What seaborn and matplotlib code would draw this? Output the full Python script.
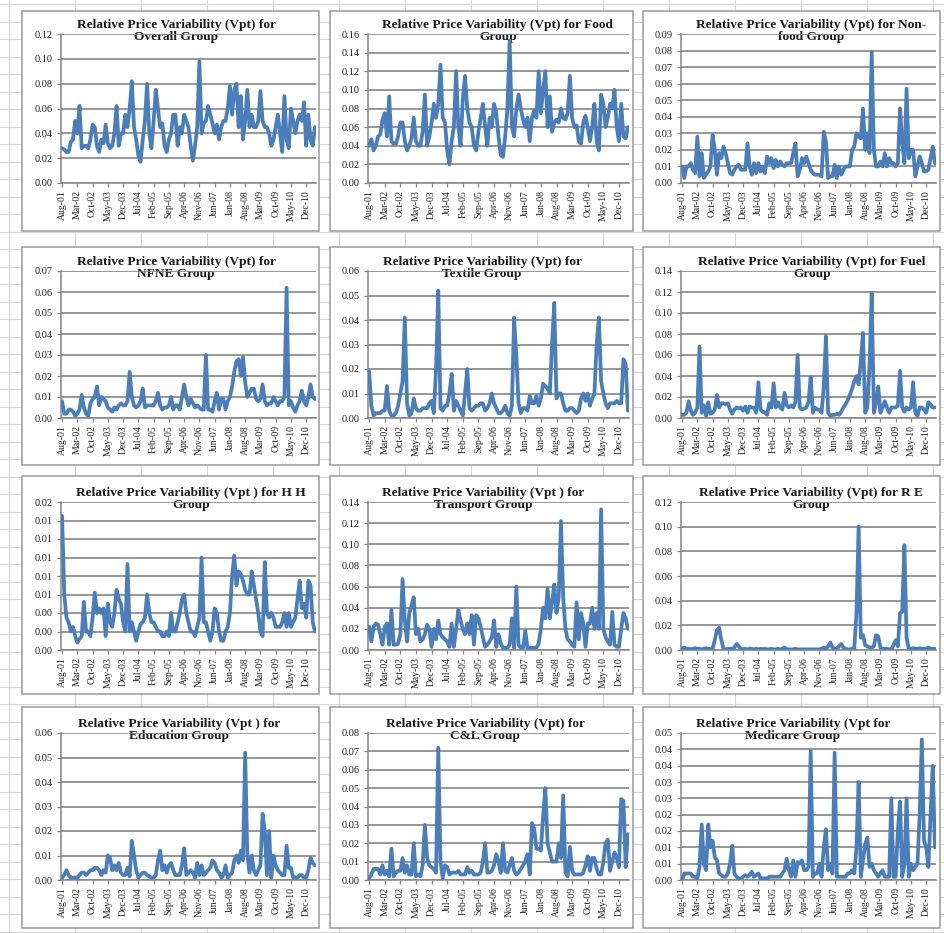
import numpy as np
import pandas as pd
import matplotlib
matplotlib.use("Agg")
import matplotlib.pyplot as plt
from matplotlib.patches import Rectangle
import seaborn as sns
from decimal import Decimal, ROUND_HALF_UP

# ---------------- data ----------------
months = pd.date_range("2001-08-01", periods=117, freq="MS").strftime("%b-%y").tolist()
tick_step = 7

overall = [0.028,0.027,0.025,0.025,0.033,0.035,0.05,0.04,0.062,0.028,
0.03,0.03,0.028,0.035,0.047,0.045,0.03,0.025,0.035,0.032,
0.047,0.032,0.028,0.03,0.04,0.062,0.03,0.04,0.04,0.055,
0.045,0.06,0.082,0.045,0.035,0.022,0.017,0.035,0.05,0.08,
0.04,0.028,0.05,0.075,0.06,0.045,0.048,0.03,0.025,0.035,
0.04,0.055,0.055,0.03,0.045,0.04,0.055,0.05,0.045,0.03,
0.018,0.03,0.045,0.098,0.04,0.048,0.05,0.062,0.055,0.048,
0.04,0.047,0.035,0.045,0.05,0.05,0.06,0.078,0.055,0.075,
0.08,0.045,0.07,0.035,0.05,0.075,0.045,0.055,0.045,0.045,
0.05,0.074,0.05,0.045,0.045,0.04,0.03,0.035,0.045,0.055,
0.04,0.025,0.07,0.035,0.028,0.06,0.05,0.04,0.05,0.055,
0.05,0.065,0.03,0.055,0.035,0.03,0.045]

food = [0.04,0.047,0.035,0.04,0.05,0.052,0.068,0.075,0.05,0.093,
0.045,0.042,0.042,0.05,0.065,0.065,0.045,0.035,0.04,0.048,
0.07,0.045,0.04,0.04,0.055,0.095,0.04,0.05,0.065,0.085,
0.07,0.085,0.127,0.07,0.065,0.035,0.02,0.045,0.06,0.12,
0.06,0.04,0.09,0.115,0.08,0.065,0.06,0.04,0.035,0.055,
0.07,0.085,0.06,0.04,0.07,0.06,0.085,0.075,0.05,0.03,
0.028,0.05,0.08,0.153,0.06,0.05,0.08,0.095,0.08,0.068,
0.06,0.07,0.045,0.07,0.078,0.07,0.12,0.075,0.1,0.12,
0.06,0.093,0.055,0.065,0.068,0.065,0.08,0.07,0.068,0.075,
0.115,0.07,0.06,0.062,0.045,0.042,0.065,0.072,0.06,0.045,
0.06,0.085,0.045,0.035,0.095,0.085,0.06,0.07,0.085,0.08,
0.1,0.06,0.045,0.085,0.05,0.048,0.06]

nonfood = [0.01,0.003,0.01,0.01,0.012,0.008,0.006,0.028,0.004,0.018,
0.003,0.005,0.007,0.01,0.029,0.02,0.005,0.018,0.015,0.022,
0.018,0.012,0.006,0.005,0.008,0.01,0.011,0.008,0.008,0.008,
0.024,0.01,0.005,0.012,0.006,0.012,0.007,0.01,0.006,0.016,
0.012,0.015,0.009,0.014,0.01,0.013,0.011,0.01,0.012,0.012,
0.012,0.018,0.024,0.004,0.008,0.015,0.012,0.016,0.012,0.008,
0.006,0.005,0.005,0.005,0.004,0.031,0.025,0.003,0.004,0.004,
0.011,0.003,0.01,0.005,0.008,0.01,0.01,0.01,0.02,0.022,
0.03,0.028,0.027,0.045,0.02,0.03,0.018,0.079,0.02,0.01,
0.01,0.013,0.01,0.018,0.01,0.015,0.012,0.012,0.01,0.012,
0.045,0.025,0.012,0.057,0.015,0.02,0.02,0.004,0.01,0.016,
0.012,0.007,0.007,0.008,0.015,0.022,0.012]

nfne = [0.008,0.002,0.002,0.004,0.004,0.003,0.001,0.002,0.004,0.011,
0.005,0.002,0.001,0.007,0.009,0.01,0.015,0.006,0.01,0.009,
0.008,0.005,0.004,0.003,0.005,0.004,0.006,0.007,0.006,0.006,
0.008,0.022,0.01,0.006,0.005,0.006,0.008,0.014,0.005,0.006,
0.006,0.006,0.006,0.008,0.012,0.006,0.004,0.005,0.005,0.006,
0.01,0.004,0.006,0.006,0.004,0.01,0.016,0.01,0.006,0.009,
0.007,0.005,0.006,0.005,0.004,0.004,0.03,0.004,0.004,0.003,
0.008,0.012,0.004,0.009,0.009,0.004,0.008,0.01,0.015,0.022,
0.027,0.028,0.02,0.029,0.017,0.01,0.012,0.014,0.014,0.009,
0.008,0.009,0.016,0.008,0.006,0.007,0.007,0.01,0.008,0.006,
0.008,0.008,0.01,0.062,0.006,0.008,0.005,0.003,0.006,0.008,
0.013,0.008,0.006,0.01,0.016,0.01,0.009]

textile = [0.019,0.005,0.001,0.002,0.002,0.002,0.003,0.003,0.013,0.003,
0.001,0.001,0.002,0.005,0.01,0.015,0.041,0.006,0.001,0.002,
0.008,0.004,0.003,0.003,0.004,0.004,0.004,0.006,0.007,0.002,
0.02,0.052,0.004,0.003,0.005,0.005,0.01,0.018,0.003,0.007,
0.005,0.003,0.001,0.01,0.02,0.004,0.003,0.004,0.005,0.005,
0.006,0.006,0.003,0.004,0.006,0.01,0.006,0.004,0.002,0.002,
0.003,0.005,0.002,0.001,0.005,0.041,0.025,0.006,0.002,0.004,
0.004,0.003,0.009,0.006,0.006,0.009,0.005,0.008,0.014,0.013,
0.012,0.01,0.03,0.047,0.008,0.01,0.01,0.006,0.003,0.003,
0.004,0.004,0.003,0.002,0.003,0.008,0.01,0.007,0.01,0.005,
0.008,0.01,0.03,0.041,0.015,0.01,0.006,0.004,0.006,0.006,
0.006,0.007,0.006,0.006,0.024,0.022,0.003]

fuel = [0.003,0.003,0.005,0.016,0.007,0.003,0.005,0.01,0.068,0.005,
0.012,0.002,0.015,0.004,0.005,0.008,0.022,0.01,0.014,0.014,
0.013,0.014,0.008,0.004,0.008,0.01,0.009,0.01,0.007,0.011,
0.005,0.011,0.01,0.01,0.005,0.034,0.008,0.006,0.005,0.003,
0.014,0.01,0.033,0.01,0.015,0.01,0.008,0.024,0.012,0.01,
0.012,0.01,0.015,0.06,0.01,0.008,0.009,0.01,0.015,0.039,
0.005,0.01,0.008,0.008,0.005,0.03,0.078,0.005,0.002,0.003,
0.003,0.004,0.003,0.006,0.01,0.013,0.017,0.022,0.028,0.035,
0.04,0.032,0.054,0.081,0.005,0.01,0.05,0.119,0.005,0.015,
0.03,0.005,0.01,0.016,0.01,0.005,0.01,0.01,0.01,0.012,
0.045,0.01,0.006,0.01,0.008,0.01,0.034,0.005,0.002,0.01,
0.01,0.008,0.005,0.015,0.013,0.01,0.01]

hh = [0.0145,0.006,0.0035,0.003,0.002,0.0025,0.0015,0.0008,0.0012,0.0015,
0.0052,0.002,0.002,0.0015,0.0035,0.0062,0.004,0.0045,0.004,0.0045,
0.0015,0.005,0.003,0.0025,0.004,0.0065,0.0055,0.005,0.003,0.002,
0.0093,0.002,0.003,0.002,0.001,0.002,0.0028,0.003,0.0035,0.006,
0.004,0.003,0.003,0.0025,0.002,0.002,0.0015,0.0015,0.002,0.0015,
0.004,0.002,0.002,0.003,0.004,0.0055,0.006,0.004,0.003,0.002,
0.002,0.0015,0.0025,0.0035,0.01,0.003,0.003,0.002,0.001,0.002,
0.0045,0.004,0.002,0.001,0.001,0.002,0.0025,0.004,0.008,0.0102,
0.007,0.0085,0.0082,0.0075,0.0065,0.006,0.006,0.0085,0.007,0.0055,
0.004,0.002,0.0015,0.0095,0.004,0.0035,0.004,0.0035,0.0025,0.0025,
0.0025,0.003,0.004,0.0025,0.004,0.0025,0.003,0.0035,0.0055,0.0075,
0.0045,0.005,0.0035,0.0075,0.007,0.003,0.002]

transport = [0.022,0.008,0.022,0.025,0.024,0.015,0.005,0.022,0.025,0.005,
0.038,0.005,0.005,0.006,0.015,0.067,0.028,0.008,0.035,0.042,
0.05,0.015,0.02,0.008,0.01,0.015,0.024,0.02,0.003,0.02,
0.01,0.028,0.015,0.012,0.01,0.008,0.003,0.025,0.003,0.02,
0.038,0.028,0.02,0.015,0.025,0.015,0.033,0.005,0.033,0.03,
0.022,0.012,0.003,0.005,0.008,0.012,0.028,0.003,0.015,0.006,
0.002,0.002,0.002,0.005,0.03,0.002,0.06,0.005,0.002,0.002,
0.018,0.002,0.002,0.002,0.002,0.002,0.006,0.02,0.04,0.03,
0.058,0.03,0.045,0.062,0.035,0.05,0.122,0.05,0.02,0.01,
0.008,0.005,0.003,0.045,0.01,0.035,0.025,0.003,0.025,0.025,
0.04,0.02,0.035,0.02,0.133,0.02,0.012,0.008,0.005,0.036,
0.005,0.003,0.003,0.02,0.035,0.03,0.02]

re_group = [0.001,0.002,0.001,0.001,0.0005,0.001,0.0015,0.001,0.001,0.0005,
0.001,0.0015,0.001,0.001,0.001,0.008,0.016,0.018,0.008,0.001,
0.0005,0.001,0.001,0.001,0.002,0.005,0.003,0.001,0.0005,0.001,
0.0005,0.001,0.001,0.0005,0.001,0.0005,0.001,0.0005,0.001,0.0005,
0.0005,0.001,0.0005,0.0005,0.001,0.0005,0.001,0.002,0.0005,0.0005,
0.0005,0.0005,0.001,0.0005,0.0005,0.0005,0.0005,0.0005,0.0005,0.0005,
0.0005,0.0005,0.0005,0.0005,0.001,0.002,0.001,0.003,0.006,0.002,
0.001,0.001,0.003,0.005,0.002,0.001,0.0005,0.0005,0.001,0.001,
0.03,0.1,0.01,0.012,0.004,0.003,0.002,0.002,0.003,0.012,
0.011,0.002,0.001,0.001,0.001,0.0005,0.0005,0.004,0.008,0.003,
0.03,0.031,0.085,0.01,0.001,0.001,0.0015,0.001,0.001,0.0015,
0.001,0.001,0.001,0.002,0.001,0.001,0.001]

education = [0.001,0.002,0.004,0.002,0.001,0.001,0.001,0.001,0.002,0.003,
0.003,0.002,0.003,0.004,0.004,0.005,0.005,0.004,0.002,0.004,
0.003,0.01,0.009,0.004,0.006,0.004,0.007,0.003,0.002,0.002,
0.005,0.0015,0.016,0.01,0.004,0.001,0.002,0.003,0.003,0.002,
0.0015,0.001,0.001,0.002,0.008,0.012,0.004,0.006,0.003,0.006,
0.007,0.004,0.002,0.002,0.002,0.006,0.013,0.002,0.003,0.004,
0.003,0.001,0.007,0.002,0.006,0.002,0.003,0.004,0.005,0.008,
0.007,0.004,0.003,0.001,0.002,0.006,0.001,0.002,0.003,0.008,
0.01,0.007,0.012,0.008,0.052,0.01,0.003,0.01,0.004,0.002,
0.004,0.006,0.027,0.02,0.002,0.02,0.001,0.01,0.006,0.004,
0.003,0.002,0.002,0.014,0.005,0.005,0.001,0.001,0.001,0.002,
0.002,0.001,0.001,0.004,0.009,0.007,0.006]

cl = [0.001,0.003,0.006,0.006,0.006,0.003,0.008,0.003,0.005,0.002,
0.017,0.002,0.004,0.005,0.005,0.012,0.004,0.008,0.003,0.003,
0.02,0.002,0.003,0.002,0.008,0.03,0.012,0.008,0.007,0.006,
0.004,0.072,0.01,0.001,0.008,0.007,0.003,0.004,0.004,0.004,
0.005,0.003,0.003,0.003,0.007,0.004,0.005,0.003,0.003,0.003,
0.004,0.01,0.02,0.004,0.004,0.005,0.008,0.014,0.01,0.004,
0.02,0.005,0.004,0.008,0.012,0.005,0.003,0.004,0.006,0.008,
0.01,0.014,0.003,0.031,0.028,0.017,0.017,0.016,0.035,0.05,
0.02,0.015,0.01,0.01,0.01,0.02,0.012,0.046,0.004,0.002,
0.018,0.005,0.003,0.003,0.003,0.003,0.004,0.008,0.013,0.005,
0.012,0.012,0.006,0.003,0.003,0.01,0.02,0.022,0.005,0.01,
0.015,0.012,0.007,0.044,0.043,0.007,0.025]

medicare = [0.0,0.002,0.002,0.002,0.002,0.001,0.001,0.0005,0.004,0.017,
0.005,0.003,0.017,0.01,0.012,0.007,0.006,0.002,0.0015,0.001,
0.001,0.002,0.005,0.0105,0.002,0.001,0.0005,0.0005,0.001,0.0015,
0.001,0.0015,0.0025,0.001,0.0015,0.002,0.0005,0.0005,0.0005,0.0005,
0.001,0.001,0.001,0.001,0.001,0.001,0.002,0.003,0.0065,0.003,
0.001,0.006,0.001,0.0055,0.005,0.006,0.003,0.003,0.004,0.0395,
0.001,0.002,0.002,0.005,0.001,0.01,0.0155,0.003,0.005,0.002,
0.039,0.001,0.001,0.001,0.001,0.001,0.002,0.002,0.003,0.002,
0.01,0.03,0.001,0.006,0.011,0.013,0.004,0.005,0.003,0.002,
0.001,0.002,0.003,0.001,0.001,0.001,0.025,0.001,0.001,0.015,
0.024,0.001,0.005,0.025,0.001,0.005,0.003,0.004,0.005,0.02,
0.043,0.012,0.01,0.004,0.02,0.035,0.01]

titles = [
    "Relative Price Variability (Vpt) for\nOverall Group",
    "Relative Price Variability (Vpt) for Food\nGroup",
    "Relative Price Variability (Vpt) for Non-\nfood Group",
    "Relative Price Variability (Vpt) for\nNFNE Group",
    "Relative Price Variability (Vpt) for\nTextile Group",
    "Relative Price Variability (Vpt) for Fuel\nGroup",
    "Relative Price Variability (Vpt ) for H H\nGroup",
    "Relative Price Variability (Vpt ) for\nTransport Group",
    "Relative Price Variability (Vpt) for R E\nGroup",
    "Relative Price Variability (Vpt ) for\nEducation Group",
    "Relative Price Variability (Vpt) for\nC&L Group",
    "Relative Price Variability (Vpt for\nMedicare Group",
]
series = [overall, food, nonfood, nfne, textile, fuel,
          hh, transport, re_group, education, cl, medicare]
y_max = [0.12, 0.16, 0.09, 0.07, 0.06, 0.14, 0.016, 0.14, 0.12, 0.06, 0.08, 0.045]
y_step = [0.02, 0.02, 0.01, 0.01, 0.01, 0.02, 0.002, 0.02, 0.02, 0.01, 0.01, 0.005]

# ---------------- layout (pixels) ----------------
W, H = 944, 933
BLUE = "#4a7ebb"
box_x = [(22, 319), (330, 633), (643, 940)]
box_y = [(11, 231), (247, 465), (476, 694), (707, 928)]
ax_x = [(61, 316), (368, 629), (681, 936)]
ax_y = [(34, 183), (271, 418), (502, 650), (733, 880)]
title_x = [176, 498, 811, 176, 482, 812, 191, 483, 811, 179, 485, 793]

sns.set_style("white")
plt.rcParams["font.family"] = ["Liberation Serif", "DejaVu Serif"]

fig = plt.figure(figsize=(W / 100, H / 100), dpi=100)
fig.patch.set_facecolor("white")

bg = fig.add_axes([0, 0, 1, 1])
bg.set_xlim(0, W)
bg.set_ylim(H, 0)
bg.axis("off")
for gx in np.arange(9, W, 66):
    bg.axvline(gx, color="#d6d6d6", lw=0.8, zorder=0)
for gy in np.arange(4, H, 17.5):
    bg.axhline(gy, color="#d6d6d6", lw=0.8, zorder=0)


def fmt(v):
    d = Decimal("%.6f" % float(v)).quantize(Decimal("0.01"), rounding=ROUND_HALF_UP)
    return f"{d:.2f}"


for k in range(12):
    r, c = divmod(k, 3)
    bx0, bx1 = box_x[c]
    by0, by1 = box_y[r]
    bg.add_patch(Rectangle((bx0, by0), bx1 - bx0, by1 - by0, facecolor="white",
                           edgecolor="#9a9a9a", lw=1.1, zorder=1))
    x0, x1 = ax_x[c]
    y0, y1 = ax_y[r]
    ax = fig.add_axes([x0 / W, 1 - y1 / H, (x1 - x0) / W, (y1 - y0) / H])
    ax.set_facecolor("none")

    vals = series[k]
    df = pd.DataFrame({"idx": np.arange(len(vals)), "v": vals})
    sns.lineplot(data=df, x="idx", y="v", ax=ax, color=BLUE, lw=2.7,
                 solid_joinstyle="round", zorder=3)

    n = len(vals)
    ax.set_xlim(-0.5, n - 0.5)
    ax.set_ylim(0, y_max[k])
    yt = np.round(np.arange(0, y_max[k] + y_step[k] / 2, y_step[k]), 6)
    ax.set_yticks(yt)
    ax.set_yticklabels([fmt(v) for v in yt])
    xt = np.arange(0, n, tick_step)
    xt = xt[xt <= 112]
    ax.set_xticks(xt)
    ax.set_xticklabels([months[i] for i in xt])
    ax.set_xlabel("")
    ax.set_ylabel("")

    ax.yaxis.grid(True, color="#858585", lw=1.2)
    ax.xaxis.grid(False)
    ax.set_axisbelow(True)
    for s in ["top", "right"]:
        ax.spines[s].set_visible(False)
    for s in ["left", "bottom"]:
        ax.spines[s].set_color("#858585")
        ax.spines[s].set_linewidth(1.1)
    ax.tick_params(axis="y", which="major", left=True, length=3, width=0.9,
                   color="#858585", labelsize=7.5, pad=3, labelcolor="#222222")
    ax.tick_params(axis="x", which="major", bottom=True, length=3, width=0.9,
                   color="#858585", labelsize=7, pad=2, labelcolor="#222222",
                   labelrotation=90)

    bg.text(title_x[k], y0 - 3, titles[k], ha="center", va="center",
            fontsize=9.6, fontweight="bold", linespacing=0.98, color="#1a1a1a",
            zorder=5)

fig.savefig("out.png", dpi=100, facecolor="white")
